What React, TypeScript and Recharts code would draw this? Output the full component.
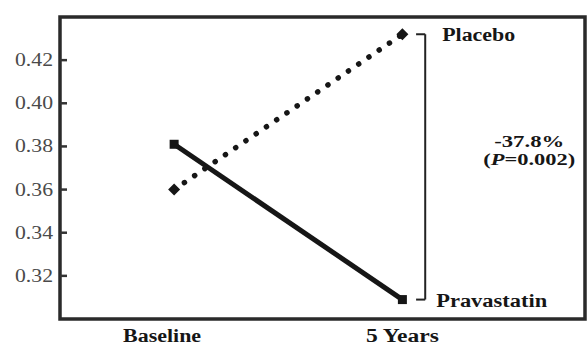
import React from 'react';
import { LineChart, Line, XAxis, YAxis, ReferenceLine, ReferenceArea } from 'recharts';

const categories = ['Baseline', '5 Years'];
const timePoints = [0, 1];
const placebo = [0.36, 0.432];
const pravastatin = [0.381, 0.309];
const yTicks = [0.32, 0.34, 0.36, 0.38, 0.4, 0.42];
const seriesNames = ['Placebo', 'Pravastatin'];
const effectText = '-37.8%';
const pValue = '0.002';

const data = timePoints.map((t, i) => ({ t, placebo: placebo[i], pravastatin: pravastatin[i] }));

const FONT = 'Liberation Serif';
const INK = '#161616';
const BRACKET_X = 1.1;
const STUB_X = 1.06;

const xLabelWidth = [78, 73];
const xLabelShift = [-12, 0];

function YTick({ x, y, payload }: any) {
  return (
    <g>
      <line x1={x + 7} x2={x + 14} y1={y} y2={y} stroke="#333" strokeWidth={2.5} />
      <text
        x={x}
        y={y}
        dy={6}
        textAnchor="end"
        style={{ fontFamily: FONT }}
        fontSize={18}
        fill="#4a4a4a"
        textLength={38}
        lengthAdjust="spacingAndGlyphs"
      >
        {payload.value.toFixed(2)}
      </text>
    </g>
  );
}

function XTick({ x, y, payload }: any) {
  const i = payload.value;
  return (
    <text
      x={x + xLabelShift[i]}
      y={y}
      dy={23}
      textAnchor="middle"
      style={{ fontFamily: FONT }}
      fontSize={18}
      fontWeight="bold"
      fill={INK}
      textLength={xLabelWidth[i]}
      lengthAdjust="spacingAndGlyphs"
    >
      {categories[i]}
    </text>
  );
}

function SquareDot({ cx, cy }: any) {
  return <rect x={cx - 4.5} y={cy - 4.5} width={9} height={9} fill={INK} />;
}

function DiamondDot({ cx, cy }: any) {
  return <path d={`M${cx} ${cy - 6} L${cx + 6} ${cy} L${cx} ${cy + 6} L${cx - 6} ${cy} Z`} fill={INK} />;
}

function SeriesLabel({ viewBox, text, dx, len }: any) {
  return (
    <text
      x={viewBox.x + viewBox.width + dx}
      y={viewBox.y}
      dy={7}
      style={{ fontFamily: FONT }}
      fontSize={18}
      fontWeight="bold"
      fill={INK}
      textLength={len}
      lengthAdjust="spacingAndGlyphs"
    >
      {text}
    </text>
  );
}

function EffectLabel({ viewBox }: any) {
  const cx = viewBox.x + 104;
  return (
    <g style={{ fontFamily: FONT }} fontSize={16} fontWeight="bold" fill={INK} textAnchor="middle">
      <text x={cx} y={viewBox.y + 113} textLength={70} lengthAdjust="spacingAndGlyphs">
        {effectText}
      </text>
      <text x={cx} y={viewBox.y + 131} textLength={92} lengthAdjust="spacingAndGlyphs">
        (<tspan fontStyle="italic">P</tspan>={pValue})
      </text>
    </g>
  );
}

export default function App() {
  return (
    <div style={{ position: 'absolute', left: 0, top: 0, background: '#fff' }}>
      <LineChart width={587} height={345} data={data} margin={{ top: 17, right: 2, bottom: 0, left: 0 }}>
        <XAxis
          dataKey="t"
          type="number"
          domain={[-0.5, 1.8]}
          ticks={timePoints}
          axisLine={false}
          tickLine={false}
          tickSize={0}
          tickMargin={0}
          height={26}
          tick={<XTick />}
        />
        <YAxis
          domain={[0.3, 0.44]}
          ticks={yTicks}
          axisLine={false}
          tickLine={false}
          tickSize={0}
          tickMargin={7}
          width={60}
          tick={<YTick />}
        />
        <ReferenceArea x1={-0.5} x2={1.8} y1={0.3} y2={0.44} fill="none" stroke="#2a2a2a" strokeWidth={3.5} />
        <ReferenceLine
          segment={[{ x: BRACKET_X, y: placebo[1] }, { x: BRACKET_X, y: pravastatin[1] }]}
          stroke="#222"
          strokeWidth={2}
          label={<EffectLabel />}
        />
        <ReferenceLine
          segment={[{ x: STUB_X, y: placebo[1] }, { x: BRACKET_X, y: placebo[1] }]}
          stroke="#222"
          strokeWidth={2}
          label={<SeriesLabel text={seriesNames[0]} dx={17} len={73} />}
        />
        <ReferenceLine
          segment={[{ x: STUB_X, y: pravastatin[1] }, { x: BRACKET_X, y: pravastatin[1] }]}
          stroke="#222"
          strokeWidth={2}
          label={<SeriesLabel text={seriesNames[1]} dx={11} len={111} />}
        />
        <Line
          dataKey="pravastatin"
          stroke={INK}
          strokeWidth={5}
          dot={<SquareDot />}
          activeDot={false}
          isAnimationActive={false}
        />
        <Line
          dataKey="placebo"
          stroke={INK}
          strokeWidth={5.5}
          strokeDasharray="0.1 12.3"
          strokeLinecap="round"
          dot={<DiamondDot />}
          activeDot={false}
          isAnimationActive={false}
        />
      </LineChart>
    </div>
  );
}
